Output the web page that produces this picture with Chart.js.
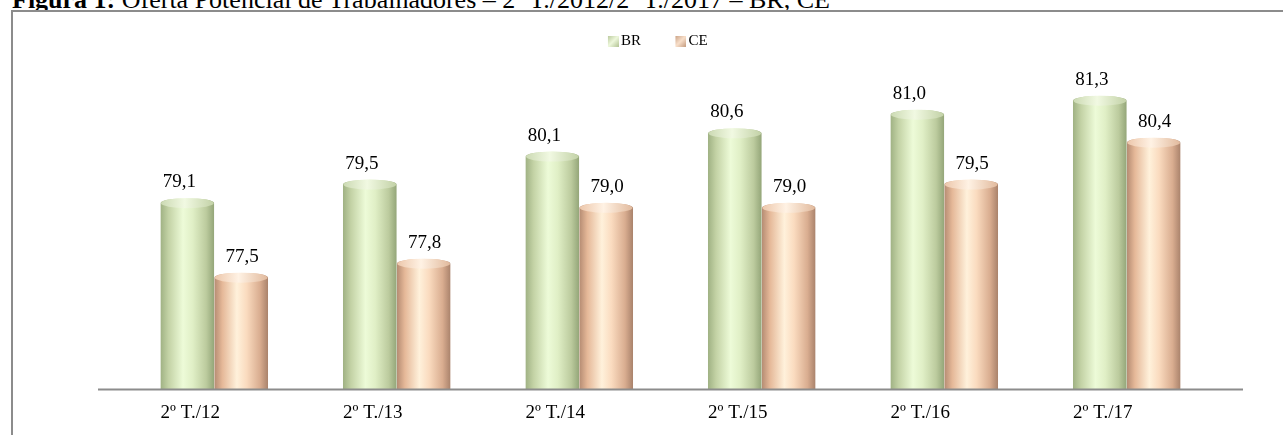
<!DOCTYPE html>
<html>
<head>
<meta charset="utf-8">
<script src="https://cdn.jsdelivr.net/npm/chart.js@4"></script>
<style>
  html, body { margin: 0; padding: 0; background: #fff; overflow: hidden; }
  #wrap { position: relative; width: 1283px; height: 435px; overflow: hidden; }
  #caption { position: absolute; left: 12px; top: -13px; font: 26px/26px "Liberation Serif", serif; color: #000; white-space: nowrap; }
  #frame { position: absolute; left: 11px; top: 10px; width: 1300px; height: 440px; border-top: 2px solid #8c8c8c; border-left: 2px solid #8c8c8c; background: #fff; }
  #cv { position: absolute; left: 0; top: 0; }
</style>
</head>
<body>
<div id="wrap">
  <div id="caption"><b>Figura 1:</b> Oferta Potencial de Trabalhadores – 2º T./2012/2º T./2017 – BR, CE</div>
  <div id="frame"></div>
  <canvas id="cv" width="1283" height="435"></canvas>
</div>
<script>
// Quarters (2nd quarter of each year)
const categories = ['2º T./12', '2º T./13', '2º T./14', '2º T./15', '2º T./16', '2º T./17'];
// Potential labour supply rate (%)
const brValues = [79.1, 79.5, 80.1, 80.6, 81.0, 81.3];
const ceValues = [77.5, 77.8, 79.0, 79.0, 79.5, 80.4];
const seriesNames = ['BR', 'CE'];
const yMin = 75;
const yMax = 82.1;

const SERIF = '"Liberation Serif", serif';
const CAP_RY = 5;          // vertical radius of the cylinder top
const SWATCH_PAD = 30;     // legend pointStyleWidth

// Cylinder shading: left-to-right gradient stops for body, cap and legend swatch
const shades = {
  BR: {
    flat: '#d2e0b5',
    body: [[0, '#9fb183'], [0.15, '#c3d2a5'], [0.42, '#edfbd8'], [0.6, '#e0efc6'], [0.85, '#bccb9e'], [1, '#93a578']],
    cap:  [[0, '#cbd9b2'], [0.45, '#f1f9e2'], [1, '#c2d1a6']],
    swatch: [[0, '#b9c99c'], [0.5, '#eef8dc'], [1, '#b3c495']]
  },
  CE: {
    flat: '#f6cdb0',
    body: [[0, '#b48b72'], [0.15, '#e5b898'], [0.42, '#fff1db'], [0.6, '#fadbbf'], [0.85, '#d9ad90'], [1, '#a9826b']],
    cap:  [[0, '#ecc6aa'], [0.45, '#fff2e4'], [1, '#e1b99c']],
    swatch: [[0, '#c9a184'], [0.5, '#f9e0cb'], [1, '#c39a7d']]
  }
};

function addStops(grad, stops) {
  stops.forEach(([o, c]) => grad.addColorStop(o, c));
  return grad;
}

// Legend swatch: transparent lead-in followed by an 11px shaded square
function makeSwatch(stops) {
  const c = document.createElement('canvas');
  c.width = SWATCH_PAD + 11;
  c.height = 11;
  const g = c.getContext('2d');
  g.fillStyle = addStops(g.createLinearGradient(SWATCH_PAD, 0, SWATCH_PAD + 11, 11), stops);
  g.fillRect(SWATCH_PAD, 0, 11, 11);
  return c;
}

const cylinderPlugin = {
  id: 'cylinders',
  beforeDatasetsDraw(chart) {
    const ctx = chart.ctx;
    chart.data.datasets.forEach((ds, i) => {
      const pal = shades[ds.label];
      chart.getDatasetMeta(i).data.forEach(bar => {
        const half = bar.width / 2;
        const g = addStops(ctx.createLinearGradient(bar.x - half, 0, bar.x + half, 0), pal.body);
        bar.options = Object.assign({}, bar.options, { backgroundColor: g });
      });
    });
  },
  beforeDatasetDraw(chart, args) {
    const ctx = chart.ctx;
    ctx.save();
    ctx.beginPath();
    args.meta.data.forEach(bar => {
      const half = bar.width / 2;
      const cy = bar.y + CAP_RY;
      ctx.rect(bar.x - half, cy, bar.width, bar.base - cy);
      ctx.moveTo(bar.x + half, cy);
      ctx.ellipse(bar.x, cy, half, CAP_RY, 0, 0, Math.PI * 2);
    });
    ctx.clip();
  },
  afterDatasetDraw(chart, args) {
    const ctx = chart.ctx;
    ctx.restore();
    const pal = shades[chart.data.datasets[args.index].label];
    args.meta.data.forEach(bar => {
      const half = bar.width / 2;
      const cy = bar.y + CAP_RY;
      ctx.save();
      ctx.beginPath();
      ctx.ellipse(bar.x, cy, half - 0.5, CAP_RY, 0, 0, Math.PI * 2);
      ctx.fillStyle = addStops(ctx.createLinearGradient(bar.x - half, 0, bar.x + half, 0), pal.cap);
      ctx.fill();
      ctx.restore();
    });
  }
};

// Floor line under the bars, a little wider than the plot area
const baselinePlugin = {
  id: 'baseline',
  afterDatasetsDraw(chart) {
    const { ctx, chartArea } = chart;
    ctx.save();
    ctx.strokeStyle = '#8c8c8c';
    ctx.lineWidth = 2;
    ctx.beginPath();
    ctx.moveTo(chartArea.left - 25, chartArea.bottom + 0.5);
    ctx.lineTo(chartArea.right + 25, chartArea.bottom + 0.5);
    ctx.stroke();
    ctx.restore();
  }
};

// Value labels above each cylinder, decimal comma
const valueLabelPlugin = {
  id: 'valueLabels',
  afterDatasetsDraw(chart) {
    const ctx = chart.ctx;
    const shiftX = [-8, 1];
    ctx.save();
    ctx.font = '19px ' + SERIF;
    ctx.fillStyle = '#000';
    ctx.textAlign = 'center';
    ctx.textBaseline = 'alphabetic';
    chart.data.datasets.forEach((ds, i) => {
      chart.getDatasetMeta(i).data.forEach((bar, j) => {
        const txt = ds.data[j].toFixed(1).replace('.', ',');
        ctx.fillText(txt, bar.x + shiftX[i], bar.y - 11);
      });
    });
    ctx.restore();
  }
};

const seriesValues = [brValues, ceValues];

new Chart(document.getElementById('cv'), {
  type: 'bar',
  data: {
    labels: categories,
    datasets: seriesNames.map((name, i) => ({
      label: name,
      data: seriesValues[i],
      backgroundColor: shades[name].flat,
      borderWidth: 0
    }))
  },
  options: {
    responsive: false,
    animation: false,
    devicePixelRatio: 1,
    events: [],
    layout: { padding: { left: 73, right: 65, top: 23.5, bottom: 0 } },
    datasets: { bar: { categoryPercentage: 0.59, barPercentage: 1 } },
    scales: {
      x: {
        grid: { display: false, drawTicks: false },
        border: { display: false },
        ticks: {
          color: '#000',
          font: { family: SERIF, size: 19, lineHeight: 1 },
          padding: 15,
          labelOffset: -24,
          maxRotation: 0,
          autoSkip: false
        },
        afterFit(scale) { scale.height = 46; }
      },
      y: {
        min: yMin,
        max: yMax,
        grid: { display: false, drawTicks: false },
        border: { display: false },
        ticks: { display: false },
        afterFit(scale) { scale.width = 50; }
      }
    },
    plugins: {
      tooltip: { enabled: false },
      legend: {
        position: 'top',
        labels: {
          color: '#000',
          font: { family: SERIF, size: 15 },
          padding: 10,
          usePointStyle: true,
          pointStyleWidth: SWATCH_PAD,
          generateLabels(chart) {
            return chart.data.datasets.map((ds, i) => ({
              text: ds.label,
              datasetIndex: i,
              pointStyle: makeSwatch(shades[ds.label].swatch),
              fillStyle: shades[ds.label].flat,
              strokeStyle: 'transparent',
              lineWidth: 0,
              hidden: false
            }));
          }
        }
      }
    }
  },
  plugins: [cylinderPlugin, baselinePlugin, valueLabelPlugin]
});
</script>
</body>
</html>
